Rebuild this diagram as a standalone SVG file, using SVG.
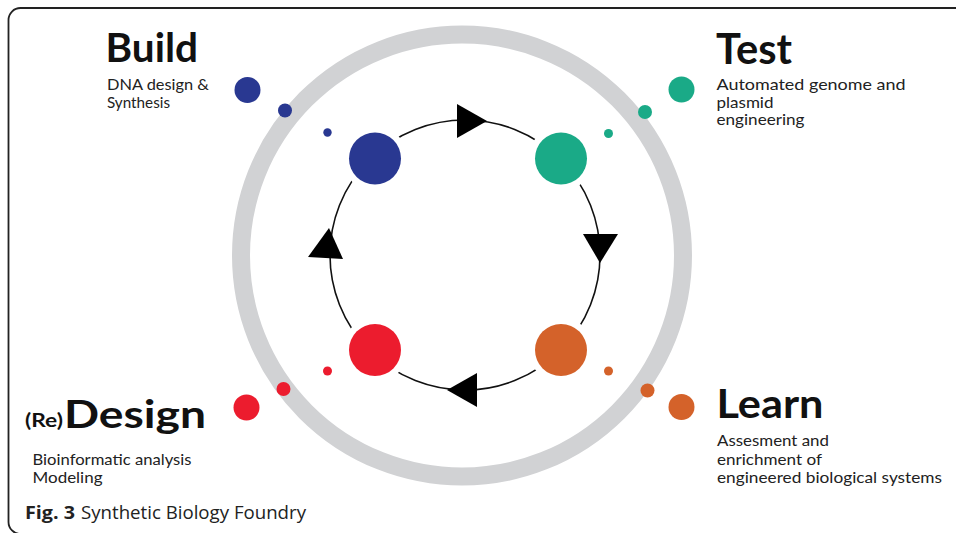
<svg xmlns="http://www.w3.org/2000/svg" width="956" height="533" viewBox="0 0 956 533">
<style>
.head{font-family:"Lato","Liberation Sans",sans-serif;font-weight:700;fill:#111}
.sub{font-family:"Lato","Liberation Sans",sans-serif;font-size:15px;fill:#222}
.cap{font-family:"Open Sans","Liberation Sans",sans-serif;font-size:18px;fill:#222}
.halo{fill:#fff}
.arrow{fill:#000}
.b{fill:#293891}.g{fill:#1aaa87}.r{fill:#ec1c2e}.o{fill:#d4622a}
</style>
<rect width="956" height="533" fill="#fff"/>
<rect x="8.5" y="8" width="980" height="526" rx="12" ry="12" fill="none" stroke="#222" stroke-width="1.8"/>
<g id="ring">
<circle cx="462" cy="255.5" r="221" fill="none" stroke="#d1d2d4" stroke-width="18"/>
</g>
<g id="connectors">
<circle cx="465" cy="255" r="135" fill="none" stroke="#111" stroke-width="1.6"/>
<polygon class="arrow" points="457,104 487,121 457,138"/>
<polygon class="arrow" points="583,234 618,234 600,263"/>
<polygon class="arrow" points="477,373 447,390 477,407"/>
<polygon class="arrow" points="308,257 343,259 329,228"/>
</g>
<g id="build">
<circle class="halo" cx="375" cy="158.5" r="32.5"/>
<circle class="b" cx="375" cy="158.5" r="26"/>
<circle class="b" cx="327.5" cy="132.5" r="4.2"/>
<circle class="b" cx="285" cy="110.5" r="7"/>
<circle class="b" cx="247.5" cy="90" r="13"/>
<text class="head" x="105.5" y="61.5" font-size="40" textLength="92.5" lengthAdjust="spacingAndGlyphs">Build</text>
<text class="sub" x="107" y="89.5" textLength="102" lengthAdjust="spacingAndGlyphs">DNA design &amp;</text>
<text class="sub" x="107" y="107.5" textLength="63" lengthAdjust="spacingAndGlyphs">Synthesis</text>
</g>
<g id="test">
<circle class="halo" cx="561" cy="158.5" r="32.5"/>
<circle class="g" cx="561" cy="158.5" r="26"/>
<circle class="g" cx="608.5" cy="133.5" r="4.5"/>
<circle class="g" cx="645" cy="112" r="7"/>
<circle class="g" cx="681.5" cy="89.5" r="13"/>
<text class="head" x="716" y="63.5" font-size="42" textLength="76" lengthAdjust="spacingAndGlyphs">Test</text>
<text class="sub" x="716.5" y="89.5" textLength="189" lengthAdjust="spacingAndGlyphs">Automated genome and</text>
<text class="sub" x="716.5" y="107.5" textLength="57" lengthAdjust="spacingAndGlyphs">plasmid</text>
<text class="sub" x="716.5" y="125" textLength="88" lengthAdjust="spacingAndGlyphs">engineering</text>
</g>
<g id="learn">
<circle class="halo" cx="561" cy="350" r="32.5"/>
<circle class="o" cx="561" cy="350" r="26"/>
<circle class="o" cx="608.5" cy="371" r="4.5"/>
<circle class="o" cx="647.5" cy="390.5" r="7"/>
<circle class="o" cx="681.5" cy="407" r="13"/>
<text class="head" x="716.5" y="417.5" font-size="40" textLength="107" lengthAdjust="spacingAndGlyphs">Learn</text>
<text class="sub" x="717" y="446" textLength="112" lengthAdjust="spacingAndGlyphs">Assesment and</text>
<text class="sub" x="717" y="464.5" textLength="105" lengthAdjust="spacingAndGlyphs">enrichment of</text>
<text class="sub" x="717" y="483" textLength="225" lengthAdjust="spacingAndGlyphs">engineered biological systems</text>
</g>
<g id="design">
<circle class="halo" cx="375" cy="350" r="32.5"/>
<circle class="r" cx="375" cy="350" r="26"/>
<circle class="r" cx="327.5" cy="371" r="4.5"/>
<circle class="r" cx="283.5" cy="389" r="7"/>
<circle class="r" cx="246.5" cy="407.5" r="13"/>
<text class="head" x="25" y="427" font-size="18" textLength="38" lengthAdjust="spacingAndGlyphs">(Re)</text>
<text class="head" x="64" y="428" font-size="39" textLength="142" lengthAdjust="spacingAndGlyphs">Design</text>
<text class="sub" x="32.5" y="464.5" textLength="159" lengthAdjust="spacingAndGlyphs">Bioinformatic analysis</text>
<text class="sub" x="32.5" y="483" textLength="70" lengthAdjust="spacingAndGlyphs">Modeling</text>
</g>
<g id="caption">
<text class="cap" x="25" y="518.5" font-weight="700" textLength="50" lengthAdjust="spacingAndGlyphs">Fig. 3</text>
<text class="cap" x="81" y="518.5" textLength="225" lengthAdjust="spacingAndGlyphs">Synthetic Biology Foundry</text>
</g>
</svg>
